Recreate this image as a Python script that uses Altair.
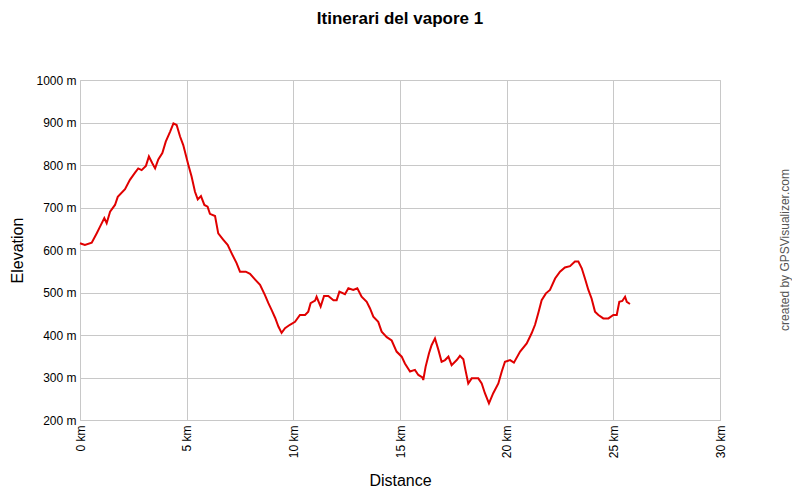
import altair as alt
import pandas as pd

distance_km = [0.0, 0.23, 0.55, 0.78, 0.94, 1.14, 1.25, 1.41, 1.64, 1.77, 2.11, 2.34, 2.58, 2.73, 2.89,
               3.09, 3.23, 3.39, 3.52, 3.67, 3.86, 4.02, 4.22, 4.38, 4.53, 4.69, 4.84, 5.08, 5.23,
               5.39, 5.52, 5.67, 5.83, 5.98, 6.09, 6.33, 6.48, 6.72, 6.92, 7.11, 7.34, 7.5, 7.77,
               7.97, 8.2, 8.44, 8.67, 8.83, 8.98, 9.15, 9.3, 9.45, 9.61, 9.84, 10.08, 10.31, 10.55,
               10.7, 10.81, 11.02, 11.09, 11.28, 11.44, 11.64, 11.88, 12.03, 12.16, 12.42, 12.58,
               12.81, 13.0, 13.2, 13.44, 13.59, 13.75, 13.98, 14.14, 14.38, 14.61, 14.84, 15.08,
               15.23, 15.47, 15.7, 15.86, 16.05, 16.09, 16.2, 16.36, 16.48, 16.64, 16.8, 16.95,
               17.11, 17.27, 17.42, 17.66, 17.81, 17.97, 18.05, 18.2, 18.36, 18.67, 18.83, 18.98,
               19.17, 19.37, 19.61, 19.77, 19.92, 20.16, 20.34, 20.63, 20.94, 21.17, 21.33, 21.48,
               21.64, 21.84, 22.03, 22.27, 22.5, 22.73, 22.97, 23.2, 23.36, 23.52, 23.67, 23.83,
               23.98, 24.14, 24.3, 24.53, 24.77, 25.0, 25.16, 25.28, 25.42, 25.55, 25.63, 25.78]
elevation_m = [616, 612, 617, 639, 655, 675, 663, 690, 706, 725, 743, 765, 782, 792, 788,
               798, 820, 804, 792, 813, 828, 855, 878, 898, 894, 867, 847, 800, 773,
               737, 719, 727, 706, 702, 685, 680, 639, 624, 612, 592, 569, 549, 549,
               544, 531, 518, 494, 475, 459, 440, 420, 405, 416, 424, 431, 447, 447,
               455, 475, 481, 490, 467, 492, 492, 482, 482, 502, 496, 510,
               506, 510, 490, 478, 463, 443, 431, 408, 395, 387, 361, 349,
               333, 314, 318, 306, 300, 294, 325, 357, 376, 392, 365, 337,
               341, 349, 329, 341, 351, 343, 322, 286, 298, 298, 286, 263,
               239, 263, 286, 314, 337, 341, 335, 361, 380, 404, 424, 451,
               482, 498, 506, 533, 549, 559, 562, 573, 573, 557, 533, 506,
               486, 455, 447, 439, 439, 447, 447, 478, 480, 490, 478, 473]

x_ticks = [0, 5, 10, 15, 20, 25, 30]
y_ticks = [200, 300, 400, 500, 600, 700, 800, 900, 1000]

title_text = "Itinerari del vapore 1"
credit_text = "created by GPSVisualizer.com"

df = pd.DataFrame({"d": distance_km, "e": elevation_m})
one = pd.DataFrame({"k": [0]})

FONT = "Liberation Sans"
GRID = "#c8c8c8"

line = alt.Chart(df).mark_line(color="#e00000", strokeWidth=2).encode(
    x=alt.X("d:Q", scale=alt.Scale(domain=[0, 30], nice=False),
            axis=alt.Axis(values=x_ticks, labelExpr="datum.value + ' km'", labelAngle=270,
                          labelAlign="right", labelBaseline="middle", labelPadding=5,
                          ticks=False, domain=False, grid=True, gridColor=GRID,
                          labelFont=FONT, labelFontSize=12, labelColor="#000",
                          title="Distance", titleFont=FONT, titleFontSize=16,
                          titleFontWeight="normal", titleColor="#000",
                          titleX=320, titleY=60, titleAlign="center", titleBaseline="middle")),
    y=alt.Y("e:Q", scale=alt.Scale(domain=[200, 1000], nice=False),
            axis=alt.Axis(values=y_ticks, labelExpr="datum.value + ' m'",
                          labelPadding=4, ticks=False, domain=False, grid=True, gridColor=GRID,
                          labelFont=FONT, labelFontSize=12, labelColor="#000",
                          title="Elevation", titleFont=FONT, titleFontSize=16,
                          titleFontWeight="normal", titleColor="#000",
                          titleX=-63, titleY=170, titleAngle=270, titleAlign="center",
                          titleBaseline="middle")),
)

title = alt.Chart(one).mark_text(font=FONT, fontSize=17, fontWeight="bold", color="#000",
                                 align="center", baseline="alphabetic").encode(
    x=alt.value(320), y=alt.value(-56), text=alt.value(title_text))

credit = alt.Chart(one).mark_text(font=FONT, fontSize=12, color="#555", angle=270,
                                  align="center", baseline="middle").encode(
    x=alt.value(705), y=alt.value(170), text=alt.value(credit_text))

chart = alt.layer(line, title, credit).properties(
    width=640, height=340,
    autosize=alt.AutoSizeParams(type="none"),
    padding={"left": 72, "top": 72, "right": 72, "bottom": 72},
).configure_view(stroke=GRID, strokeWidth=1)

chart.save("out.html", embed_options={"renderer": "svg", "actions": False})
